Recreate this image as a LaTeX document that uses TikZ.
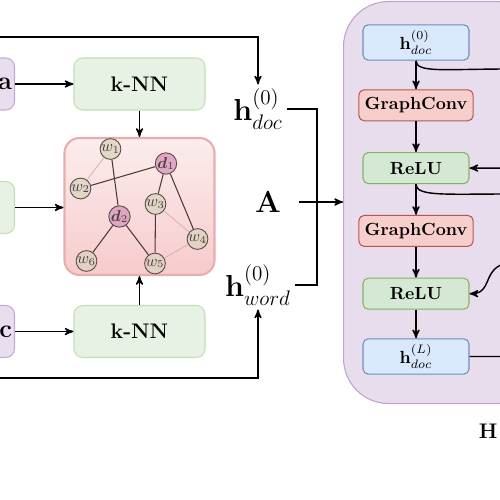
\documentclass[tikz,border=0pt]{standalone}
\usepackage{amsmath,amssymb}
\usepackage{tikz}
\usepackage{xcolor}
\usetikzlibrary{arrows}
\usetikzlibrary{shapes,backgrounds}

\definecolor{sidefill}{HTML}{E8DEEF}
\definecolor{sideline}{HTML}{C4A9D6}
\definecolor{knnfill}{HTML}{E7F2E4}
\definecolor{knnline}{HTML}{C2DFB7}
\definecolor{blufill}{HTML}{DAE8FC}
\definecolor{bluline}{HTML}{6C8EBF}
\definecolor{redfill}{HTML}{F8CECC}
\definecolor{redline}{HTML}{B85450}
\definecolor{grnfill}{HTML}{D5E8D4}
\definecolor{grnline}{HTML}{82B366}
\definecolor{panelfill}{HTML}{E8DDEC}
\definecolor{panelline}{HTML}{C1A1CF}
\definecolor{graphtop}{HTML}{FCEDED}
\definecolor{graphbot}{HTML}{F7CBCC}
\definecolor{graphline}{HTML}{E8AEAE}
\definecolor{wordfill}{HTML}{DCD4C0}
\definecolor{docfill}{HTML}{D899BD}
\definecolor{nodeline}{HTML}{5A4A48}
\definecolor{nodetext}{HTML}{4A4040}
\definecolor{edgedark}{HTML}{4A3B3B}
\definecolor{edgelight}{HTML}{D9B3B3}

\begin{document}
\begin{tikzpicture}[>=stealth',thick,node distance=1.256cm,
    side box/.style={rectangle,rounded corners=5pt,draw=sideline,fill=sidefill,line width=0.6pt,
                     minimum width=1.4cm,minimum height=1.04cm,font=\Large\bfseries},
    knn box/.style={rectangle,rounded corners=5pt,draw=knnline,fill=knnfill,line width=0.6pt,
                    minimum width=2.62cm,minimum height=1.04cm,font=\large\bfseries},
    layer box/.style={rectangle,rounded corners=3pt,line width=0.6pt,
                      minimum width=2.12cm,minimum height=0.62cm,font=\bfseries},
    blue box/.style={layer box,draw=bluline,fill=blufill},
    red box/.style={layer box,draw=redline,fill=redfill},
    green box/.style={layer box,draw=grnline,fill=grnfill},
    graph box/.style={rectangle,rounded corners=0.3cm,draw=graphline,line width=1.2pt,
                      top color=graphtop,bottom color=graphbot,minimum width=3cm,minimum height=2.74cm},
    panel/.style={rectangle,rounded corners=0.9cm,draw=panelline,fill=panelfill,line width=0.6pt},
    word node/.style={circle,draw=nodeline,line width=0.5pt,fill=wordfill,fill opacity=0.8,text opacity=1,
                      minimum size=0.4cm,inner sep=0pt,font=\small,text=nodetext},
    doc node/.style={word node,fill=docfill},
    dark edge/.style={-,color=edgedark,line width=0.6pt},
    light edge/.style={-,color=edgelight,line width=0.5pt},
    label node/.style={inner sep=2pt,font=\LARGE}]

  \useasboundingbox (0,0) rectangle (10,-10);
  \clip (0,0) rectangle (10,-10);

  % left column
  \node[side box,anchor=east,text width=1.3cm,inner xsep=1pt,align=right] (inA) at (0.3,-1.68) {a};
  \node[knn box,anchor=east] (inB) at (0.3,-4.15) {};
  \node[side box,anchor=east,text width=1.3cm,inner xsep=1pt,align=right] (inC) at (0.3,-6.63) {c};

  \node[knn box] (knn1) at (2.79,-1.68) {k-NN};
  \node[knn box] (knn2) at (2.79,-6.63) {k-NN};
  \node[graph box] (graph) at (2.79,-4.13) {};

  % graph
  \node[word node] (w1) at (2.21,-2.98) {$w_1$};
  \node[doc node]  (d1) at (3.32,-3.27) {$\boldsymbol{d}_1$};
  \node[word node] (w2) at (1.61,-3.77) {$w_2$};
  \node[word node] (w3) at (3.11,-4.08) {$w_3$};
  \node[doc node]  (d2) at (2.39,-4.33) {$\boldsymbol{d}_2$};
  \node[word node] (w4) at (3.95,-4.78) {$w_4$};
  \node[word node] (w6) at (1.73,-5.22) {$w_6$};
  \node[word node] (w5) at (3.10,-5.27) {$w_5$};

  \path[dark edge]
    (w1) edge (d2)
    (w2) edge (d1)
    (d1) edge (w3)
         edge (w4)
    (d2) edge (w6)
         edge (w5)
    (w3) edge (w5)
    ;
  \path[light edge]
    (w1) edge (w2)
    (w3) edge (w4)
    (w4) edge (w5)
    ;

  \draw[->] (inA) -- (knn1);
  \draw[->] (inB.east) -- (inB.east -| graph.west);
  \draw[->] (inC) -- (knn2);
  \draw[->] (knn1) -- (graph);
  \draw[->] (knn2) -- (graph);

  % inputs of the model
  \node[label node] (hdoc) at (5.16,-2.18) {$\mathbf{h}^{(0)}_{doc}$};
  \node[label node] (A) at (5.36,-4.04) {$\mathbf{A}$};
  \node[label node] (hword) at (5.16,-5.70) {$\mathbf{h}^{(0)}_{word}$};

  \coordinate (topin) at (0,-0.74);
  \coordinate (botin) at (0,-7.56);
  \coordinate (merge) at (6.34,-4.04);
  \draw[->] (topin) -| (hdoc.north);
  \draw[->] (botin) -| (hword.south);
  \draw (hdoc.east) -| (merge) |- (hword.east);

  % model
  \node[panel,anchor=north west,minimum width=4cm,minimum height=8.04cm] (panel) at (6.86,-0.02) {};
  \draw[->,shorten <=8pt] (A) -- (A -| panel.west);

  \node[blue box] (h0) at (8.32,-0.85) {$\mathbf{h}^{(0)}_{doc}$};
  \node[red box] (conv1) [below of=h0] {GraphConv};
  \node[green box] (relu1) [below of=conv1] {ReLU};
  \node[red box] (conv2) [below of=relu1] {GraphConv};
  \node[green box] (relu2) [below of=conv2] {ReLU};
  \node[blue box] (hL) [below of=relu2] {$\mathbf{h}^{(L)}_{doc}$};

  \path[->]
    (h0) edge (conv1)
    (conv1) edge (relu1)
    (relu1) edge (conv2)
    (conv2) edge (relu2)
    (relu2) edge (hL)
    ;

  \coordinate (skip0) at (10.2,-1.38);
  \coordinate (add1) at (10.2,-3.362);
  \coordinate (skip1) at (10.2,-3.88);
  \coordinate (add2) at (10.3,-5.25);
  \coordinate (out) at (10.2,-7.13);
  \draw (h0.south) .. controls +(0,-0.25) and +(-1.3,0) .. (skip0);
  \draw[->] (add1) -- (relu1.east);
  \draw (relu1.south) .. controls +(0,-0.25) and +(-1.3,0) .. (skip1);
  \draw[->] (add2) .. controls +(-0.7,0) and +(0.5,0) .. (relu2.east);
  \draw (hL.east) -- (out);

  \node[anchor=east,inner sep=1pt,font=\large\bfseries] (title) at (10,-8.62) {H};
\end{tikzpicture}
\end{document}
